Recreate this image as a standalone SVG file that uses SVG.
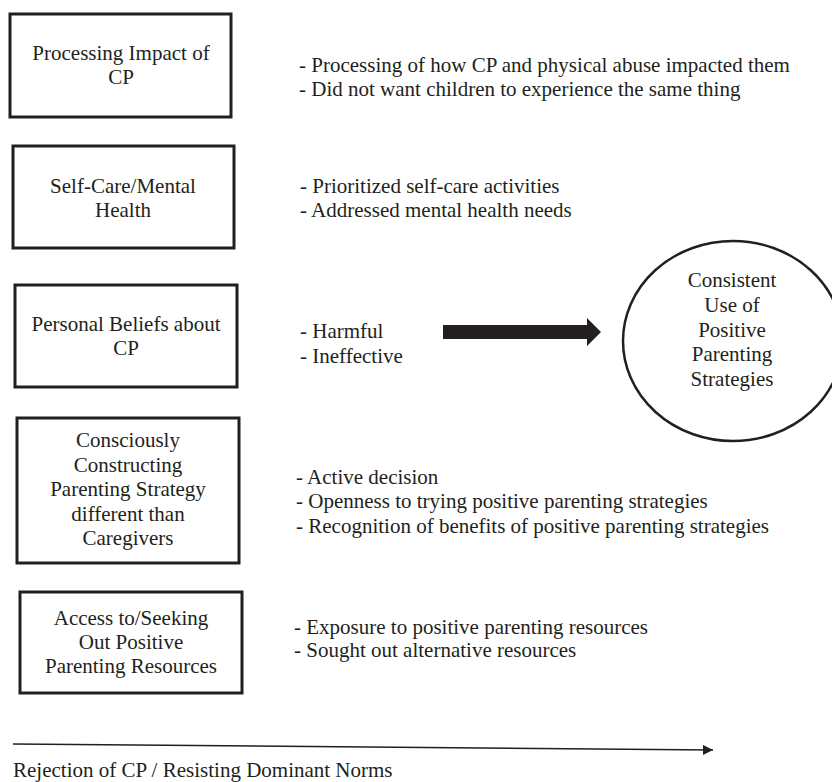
<svg xmlns="http://www.w3.org/2000/svg" width="832" height="782" viewBox="0 0 832 782">
<style>
text{font-family:"Liberation Serif","Times New Roman",serif;font-size:21px;fill:#231f20}
.c{text-anchor:middle}
.box{fill:#fff;stroke:#231f20;stroke-width:3}
</style>
<defs>
<marker id="ah" viewBox="0 0 10 10" refX="10" refY="5" markerWidth="10" markerHeight="10" markerUnits="userSpaceOnUse" orient="auto">
<path d="M0,0 L10,5 L0,10 Z" fill="#231f20"/>
</marker>
</defs>
<rect width="832" height="782" fill="#fff"/>
<g id="node-processing">
<rect class="box" x="10" y="14" width="221" height="103"/>
<text class="c" x="121" y="60">Processing Impact of</text>
<text class="c" x="121" y="84">CP</text>
</g>
<g id="node-selfcare">
<rect class="box" x="13" y="146" width="221" height="102"/>
<text class="c" x="123" y="193">Self-Care/Mental</text>
<text class="c" x="123" y="217">Health</text>
</g>
<g id="node-beliefs">
<rect class="box" x="15" y="285" width="222" height="102"/>
<text class="c" x="126" y="331">Personal Beliefs about</text>
<text class="c" x="126" y="355">CP</text>
</g>
<g id="node-constructing">
<rect class="box" x="17" y="418" width="222" height="145"/>
<text class="c" x="128" y="447">Consciously</text>
<text class="c" x="128" y="472">Constructing</text>
<text class="c" x="128" y="496">Parenting Strategy</text>
<text class="c" x="128" y="521">different than</text>
<text class="c" x="128" y="545">Caregivers</text>
</g>
<g id="node-access">
<rect class="box" x="20" y="592" width="222" height="101"/>
<text class="c" x="131" y="625">Access to/Seeking</text>
<text class="c" x="131" y="649">Out Positive</text>
<text class="c" x="131" y="673">Parenting Resources</text>
</g>
<g id="desc-processing">
<text x="299" y="72">- Processing of how CP and physical abuse impacted them</text>
<text x="299" y="96">- Did not want children to experience the same thing</text>
</g>
<g id="desc-selfcare">
<text x="300" y="193">- Prioritized self-care activities</text>
<text x="300" y="217">- Addressed mental health needs</text>
</g>
<g id="desc-beliefs">
<text x="300" y="338">- Harmful</text>
<text x="300" y="363">- Ineffective</text>
</g>
<g id="desc-constructing">
<text x="296" y="484">- Active decision</text>
<text x="296" y="508">- Openness to trying positive parenting strategies</text>
<text x="296" y="533">- Recognition of benefits of positive parenting strategies</text>
</g>
<g id="desc-access">
<text x="294" y="634">- Exposure to positive parenting resources</text>
<text x="294" y="657">- Sought out alternative resources</text>
</g>
<g id="node-outcome">
<ellipse cx="733" cy="341" rx="110" ry="100" fill="#fff" stroke="#231f20" stroke-width="2.5"/>
<text class="c" x="732" y="287">Consistent</text>
<text class="c" x="732" y="312">Use of</text>
<text class="c" x="732" y="337">Positive</text>
<text class="c" x="732" y="361">Parenting</text>
<text class="c" x="732" y="386">Strategies</text>
</g>
<g id="connectors">
<polygon points="443,325 587,325 587,318 601,332 587,346 587,339 443,339" fill="#231f20"/>
<line x1="13" y1="744" x2="713" y2="750" stroke="#231f20" stroke-width="1.5" marker-end="url(#ah)"/>
</g>
<text x="13" y="777">Rejection of CP / Resisting Dominant Norms</text>
</svg>
